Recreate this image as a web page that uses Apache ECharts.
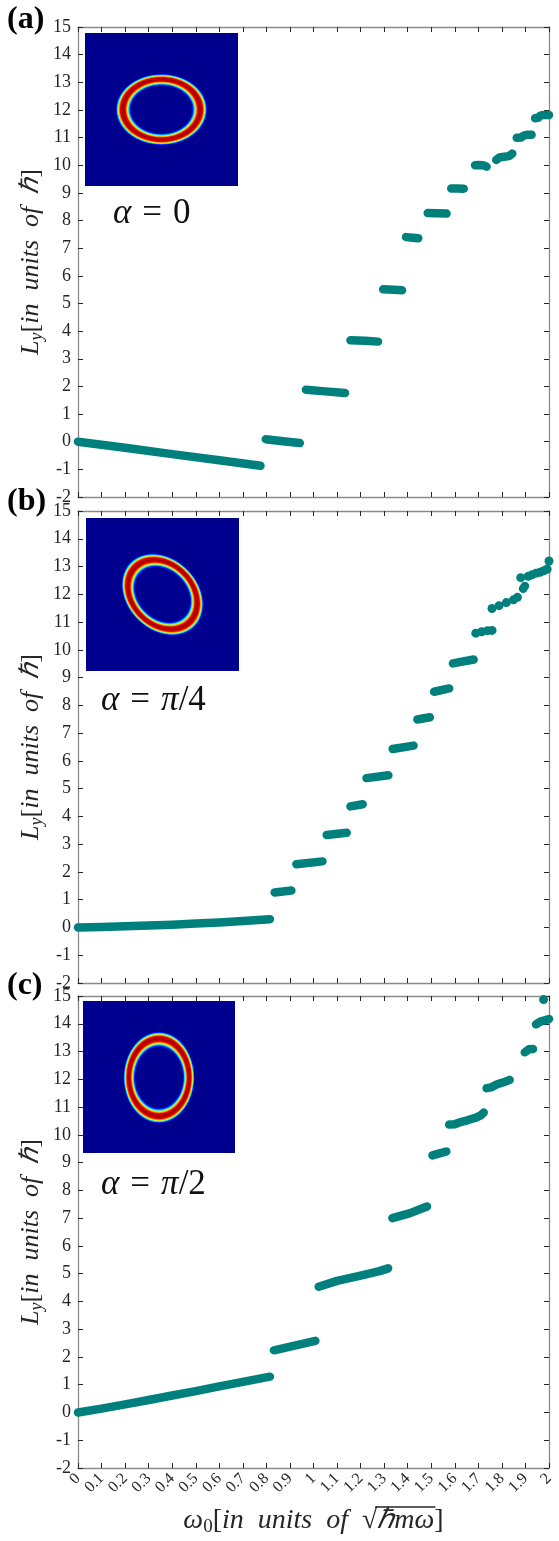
<!DOCTYPE html>
<html><head><meta charset="utf-8">
<script src="https://cdn.jsdelivr.net/npm/echarts/dist/echarts.min.js"></script>
<style>html,body{margin:0;padding:0;background:#fff}#c{width:559px;height:1541px}</style>
</head><body><div id="c"></div>
<script>
// ---- data ----
const xTicksMin = 0, xTicksMax = 2, xTickStep = 0.1;
const yTicksMin = -2, yTicksMax = 15, yTickStep = 1;
const panelLabels = ['(a)', '(b)', '(c)'];
const alphaLabels = [['0', ''], ['π', '/4'], ['π', '/2']];

const segA = [
  [[0,0],[0.2,-0.22],[0.4,-0.45],[0.6,-0.67],[0.775,-0.87]],
  [[0.797,0.09],[0.87,0.02],[0.942,-0.05]],
  [[0.968,1.88],[1.05,1.82],[1.134,1.76]],
  [[1.157,3.67],[1.22,3.65],[1.274,3.62]],
  [[1.296,5.51],[1.34,5.50],[1.376,5.48]],
  [[1.393,7.40],[1.42,7.38],[1.445,7.36]],
  [[1.485,8.27],[1.52,8.26],[1.565,8.25]],
  [[1.585,9.16],[1.61,9.16],[1.638,9.15]],
  [[1.686,10.0],[1.70,10.01],[1.72,10.0],[1.735,9.95]],
  [[1.776,10.19],[1.79,10.28],[1.81,10.31],[1.83,10.33],[1.844,10.42]],
  [[1.863,10.99],[1.88,11.0],[1.895,11.08],[1.91,11.1],[1.926,11.1]],
  [[1.941,11.7],[1.955,11.72],[1.965,11.8],[1.98,11.82],[2.0,11.82]]
];
const dotsA = [];

const segB = [
  [[0,0],[0.1,0.02],[0.2,0.04],[0.3,0.07],[0.4,0.1],[0.5,0.14],[0.6,0.18],[0.7,0.23],[0.815,0.30]],
  [[0.835,1.26],[0.906,1.33]],
  [[0.927,2.28],[1.038,2.38]],
  [[1.056,3.33],[1.141,3.41]],
  [[1.157,4.36],[1.209,4.44]],
  [[1.225,5.38],[1.318,5.48]],
  [[1.336,6.43],[1.425,6.55]],
  [[1.441,7.49],[1.494,7.57]],
  [[1.512,8.49],[1.576,8.61]],
  [[1.592,9.51],[1.680,9.65]],
  [[1.890,12.2],[1.898,12.3]]
];
const dotsB = [[1.689,10.6],[1.714,10.65],[1.739,10.69],[1.758,10.7],
  [1.758,11.49],[1.788,11.59],[1.819,11.70],[1.849,11.80],[1.866,11.89],
  [1.880,12.6],[1.912,12.65],[1.928,12.7],[1.945,12.76],[1.962,12.79],[1.978,12.85],[1.992,12.9],
  [2.0,13.2]];

const segC = [
  [[0,0],[0.1,0.14],[0.2,0.29],[0.3,0.45],[0.4,0.61],[0.5,0.77],[0.6,0.94],[0.7,1.1],[0.815,1.29]],
  [[0.832,2.24],[0.92,2.41],[1.008,2.58]],
  [[1.022,4.53],[1.1,4.74],[1.2,4.93],[1.28,5.09],[1.317,5.19]],
  [[1.335,7.0],[1.41,7.18],[1.482,7.42]],
  [[1.505,9.26],[1.535,9.33],[1.564,9.40]],
  [[1.576,10.37],[1.60,10.38],[1.62,10.45],[1.645,10.5],[1.67,10.57],[1.69,10.62],[1.71,10.7],[1.723,10.8]],
  [[1.735,11.68],[1.755,11.71],[1.78,11.82],[1.81,11.9],[1.833,11.98]],
  [[1.897,12.97],[1.915,13.08],[1.932,13.09]],
  [[1.945,13.98],[1.963,14.08],[2.0,14.17]]
];
const dotsC = [[1.977,14.87]];

// ---- layout / style ----
const F = 'Liberation Serif';
const TEAL = '#00807c';
const grids = [
  {left:78, top:27, width:471, height:470},
  {left:78, top:511, width:471, height:472},
  {left:78, top:996, width:471, height:472}
];
const insets = [
  {x:85, y:33, w:153, cx:161.5, cy:109.5, sx:1, sy:0.78, rot:0, tx:113, ty:214},
  {x:86, y:518, w:153, cx:162.5, cy:594.5, sx:1, sy:0.78, rot:-Math.PI/4, tx:101, ty:701},
  {x:83, y:1001, w:152, cx:159, cy:1077.5, sx:0.78, sy:1, rot:0, tx:101, ty:1185}
];

const axisLine = {onZero:false, lineStyle:{color:'#8a8a8a', width:1.3}};
const axisTick = {inside:true, length:5, lineStyle:{color:'#262626', width:1}};

const xAxis = [], yAxis = [], series = [];
grids.forEach((g, i) => {
  xAxis.push({gridIndex:i, type:'value', position:'bottom', min:xTicksMin, max:xTicksMax, interval:xTickStep,
    axisLine, axisTick, splitLine:{show:false},
    axisLabel:{show:i===2, rotate:45, margin:8, fontFamily:F, fontSize:16, color:'#262626'}});
  xAxis.push({gridIndex:i, type:'value', position:'top', min:xTicksMin, max:xTicksMax, interval:xTickStep,
    axisLine, axisTick, splitLine:{show:false}, axisLabel:{show:false}});
  yAxis.push({gridIndex:i, type:'value', position:'left', min:yTicksMin, max:yTicksMax, interval:yTickStep,
    axisLine, axisTick, splitLine:{show:false},
    axisLabel:{margin:7, fontFamily:F, fontSize:18, color:'#262626'}});
  yAxis.push({gridIndex:i, type:'value', position:'right', min:yTicksMin, max:yTicksMax, interval:yTickStep,
    axisLine, axisTick, splitLine:{show:false}, axisLabel:{show:false}});
});

[[segA, dotsA], [segB, dotsB], [segC, dotsC]].forEach(([segs, dots], i) => {
  segs.forEach(s => series.push({type:'line', xAxisIndex:2*i, yAxisIndex:2*i, data:s, showSymbol:false,
    clip:false, silent:true, animation:false, smooth:false,
    lineStyle:{color:TEAL, width:8.5, cap:'round', join:'round'}}));
  if (dots.length) series.push({type:'scatter', xAxisIndex:2*i, yAxisIndex:2*i, data:dots, symbolSize:9,
    clip:false, silent:true, animation:false, itemStyle:{color:TEAL, opacity:1}});
});

// ---- graphics: insets, labels, titles ----
const ringFill = {type:'radial', x:0.5, y:0.5, r:0.5, colorStops:[
  {offset:0, color:'#00008f'},{offset:0.655, color:'#00008f'},{offset:0.685, color:'#0020ff'},
  {offset:0.71, color:'#00d8ff'},{offset:0.735, color:'#c0ff40'},{offset:0.76, color:'#ff9a00'},
  {offset:0.785, color:'#e80000'},{offset:0.84, color:'#9c0000'},{offset:0.895, color:'#e80000'},
  {offset:0.92, color:'#ff9a00'},{offset:0.94, color:'#c0ff40'},{offset:0.96, color:'#00d8ff'},
  {offset:0.98, color:'#0020ff'},{offset:1, color:'#00008f'}]};

const graphic = [];
insets.forEach((p, i) => {
  graphic.push({type:'rect', silent:true, shape:{x:p.x, y:p.y, width:p.w, height:p.w}, style:{fill:'#00008f'}});
  graphic.push({type:'circle', silent:true, x:p.cx, y:p.cy, scaleX:p.sx, scaleY:p.sy, rotation:p.rot,
    shape:{cx:0, cy:0, r:46}, style:{fill:ringFill}});
  const a = alphaLabels[i];
  graphic.push({type:'text', silent:true, x:p.tx, y:p.ty, style:{
    text:'{i|α}{e|=}' + (a[0]==='π' ? '{i|π}' : '{n|' + a[0] + '}') + (a[1] ? '{n|' + a[1] + '}' : ''),
    verticalAlign:'middle', align:'left', fill:'#111',
    rich:{i:{fontFamily:F, fontStyle:'italic', fontSize:35, fill:'#111'},
          n:{fontFamily:F, fontSize:35, fill:'#111'},
          e:{fontFamily:F, fontSize:35, padding:[0,11,0,11], fill:'#111'}}}});
});

const labelTops = [4, 486, 970];
panelLabels.forEach((t, i) => graphic.push({type:'text', silent:true, x:7, y:labelTops[i],
  style:{text:t, font:'bold 32px "' + F + '"', fill:'#000', verticalAlign:'top'}}));

const yTitleRich = {
  i:{fontFamily:F, fontStyle:'italic', fontSize:26, lineHeight:30, fill:'#262626'},
  n:{fontFamily:F, fontSize:26, lineHeight:30, fill:'#262626'},
  s:{fontFamily:F, fontStyle:'italic', fontSize:18, lineHeight:12, verticalAlign:'bottom', fill:'#262626'}
};
grids.forEach(g => graphic.push({type:'text', silent:true, x:31, y:g.top + g.height/2, rotation:Math.PI/2,
  style:{text:'{i|L}{s|y}{n|[}{i|in  units  of  ℏ}{n|]}', align:'center', verticalAlign:'middle', rich:yTitleRich}}));

// x title with overline for the square root
const xt = [['i','ω'],['s','0'],['n','['],['i','in  units  of  '],['n','√'],['i','ℏmω'],['n',']']];
const XS = 28;
const fonts = {i:'italic ' + XS + 'px ' + F, n:XS + 'px ' + F, s:'19px ' + F};
const ctx = document.createElement('canvas').getContext('2d');
const widths = xt.map(([k, t]) => { ctx.font = fonts[k]; return ctx.measureText(t).width; });
const total = widths.reduce((a, b) => a + b, 0);
const xtCx = 78 + 471/2, xtCy = 1521;
let x0 = xtCx - total/2;
const sqrtStart = x0 + widths.slice(0,4).reduce((a,b)=>a+b,0);
const olStart = sqrtStart + widths[4]*0.85;
const olEnd = sqrtStart + widths[4] + widths[5] + 1;
graphic.push({type:'text', silent:true, x:xtCx, y:xtCy, style:{
  text: xt.map(([k,t]) => '{' + k + '|' + t + '}').join(''), align:'center', verticalAlign:'middle',
  rich:{i:{fontFamily:F, fontStyle:'italic', fontSize:XS, lineHeight:32, fill:'#262626'},
        n:{fontFamily:F, fontSize:XS, lineHeight:32, fill:'#262626'},
        s:{fontFamily:F, fontSize:19, lineHeight:12, verticalAlign:'bottom', fill:'#262626'}}}});
graphic.push({type:'line', silent:true, shape:{x1:olStart, y1:xtCy-14, x2:olEnd, y2:xtCy-14},
  style:{stroke:'#262626', lineWidth:1.3}});

const chart = echarts.init(document.getElementById('c'), null, {renderer:'canvas'});
chart.setOption({animation:false, backgroundColor:'#fff', grid:grids, xAxis, yAxis, series, graphic});
</script></body></html>
